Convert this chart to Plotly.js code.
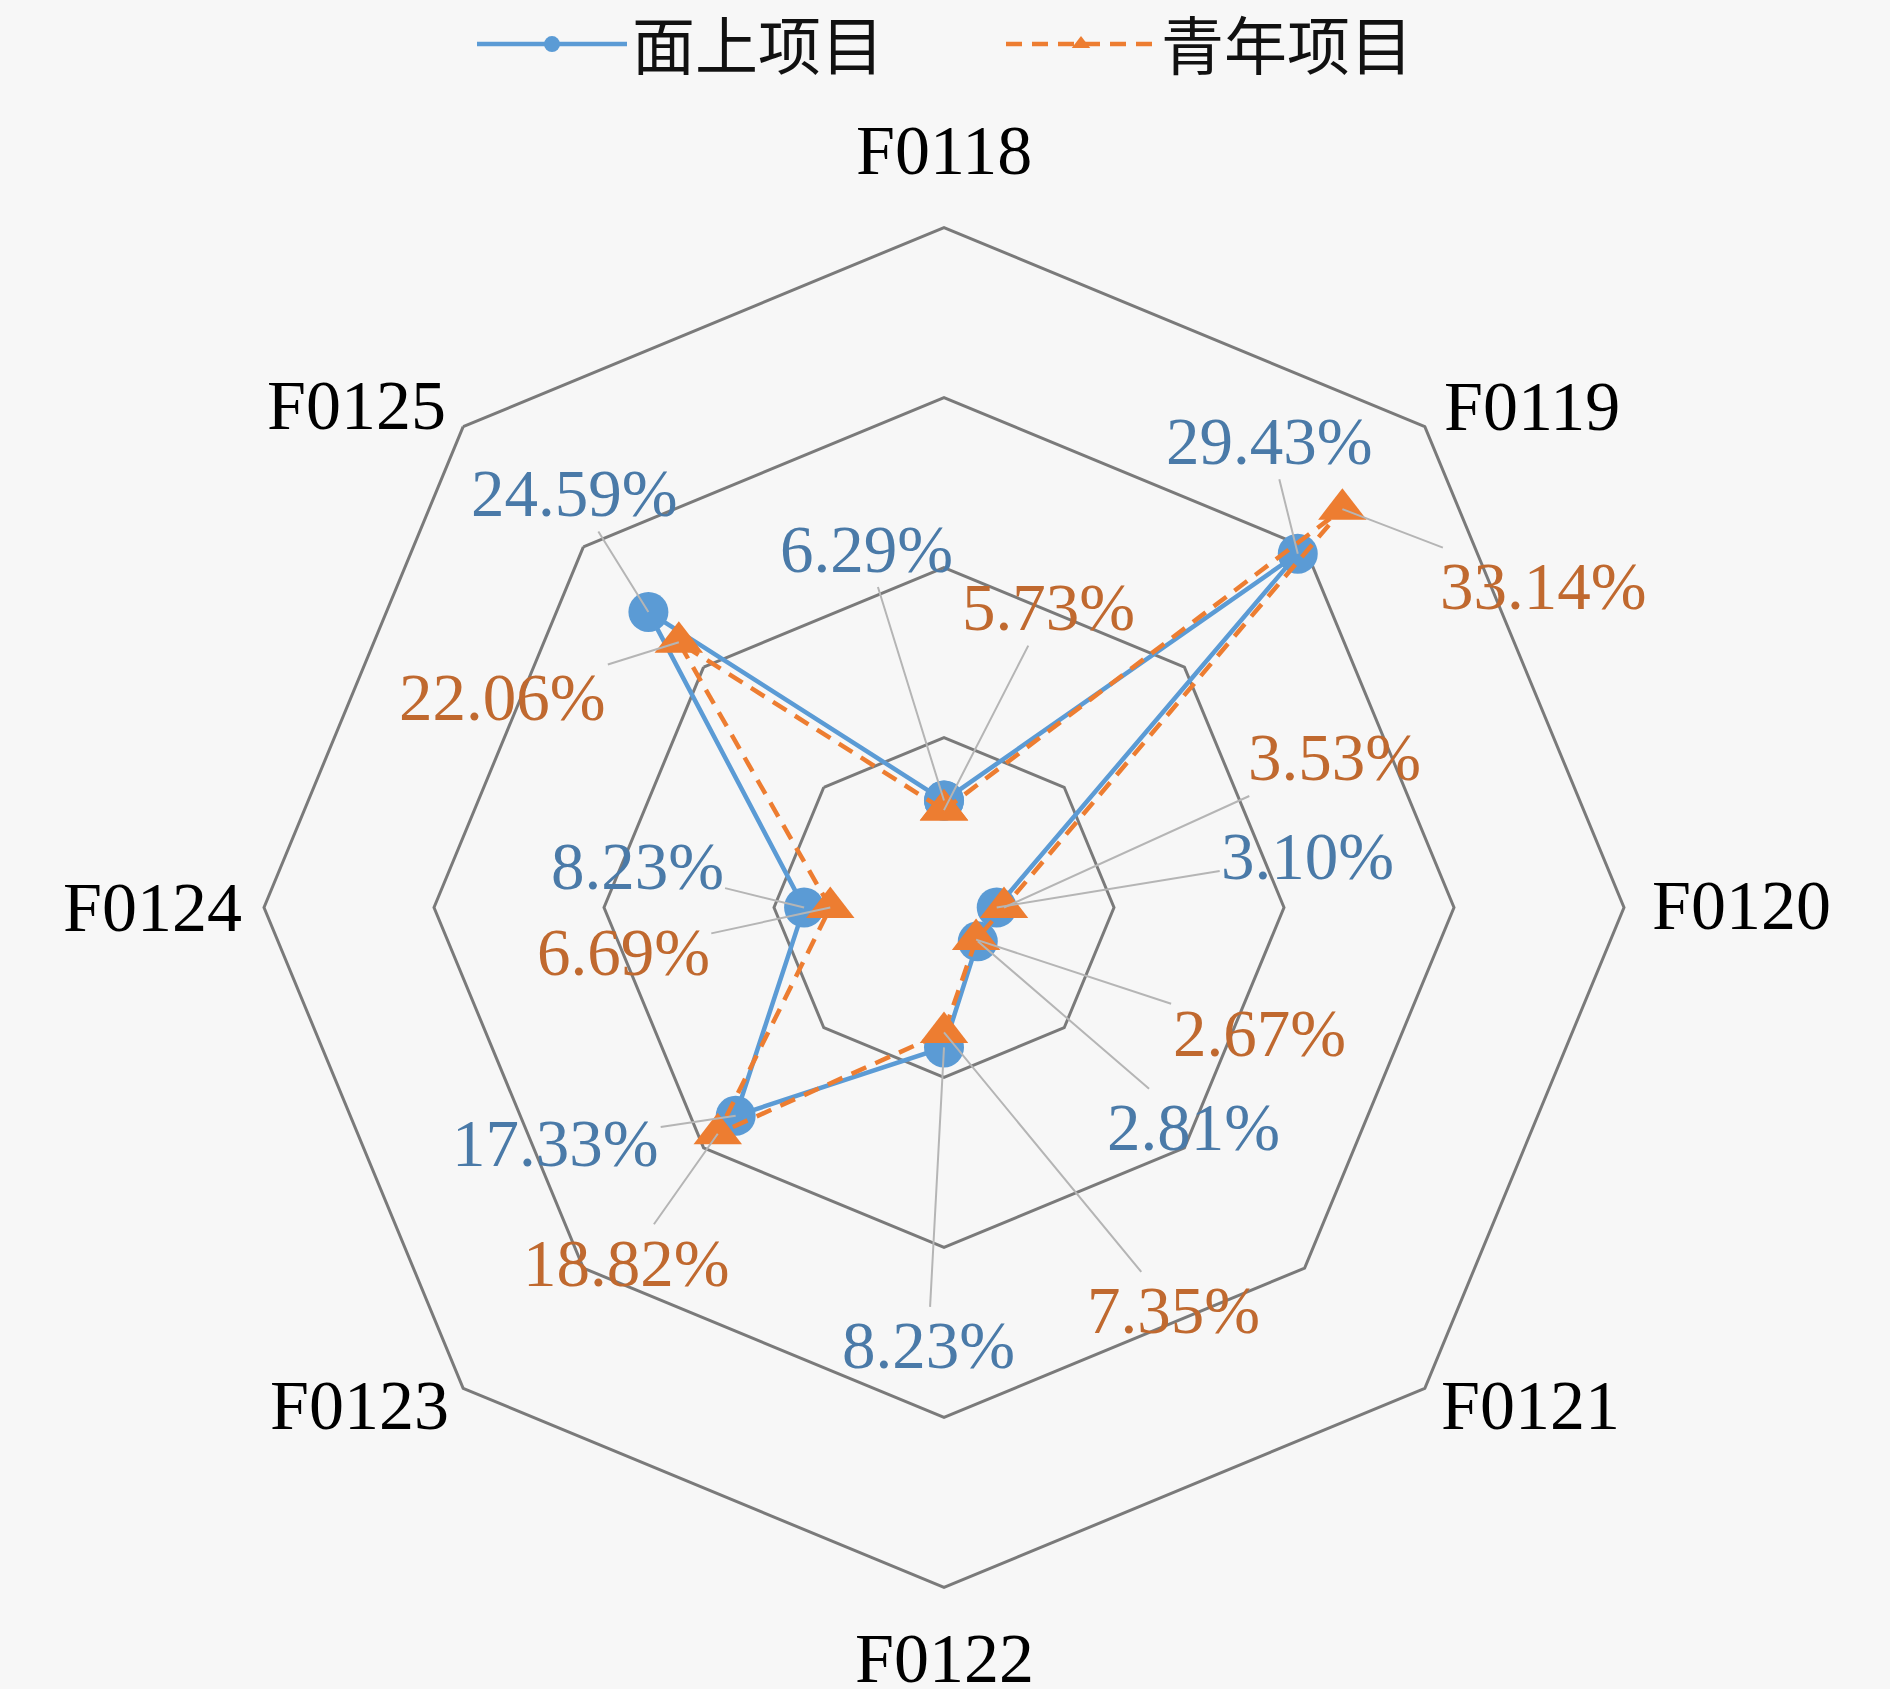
<!DOCTYPE html>
<html>
<head>
<meta charset="utf-8">
<script src="https://cdn.plot.ly/plotly-3.0.1.min.js"></script>
<style>html,body{margin:0;padding:0;background:#f7f7f7;}</style>
</head>
<body>
<div id="chart" style="width:1890px;height:1689px;"></div>
<script>
// ---- data ----
const categories = ['F0118','F0119','F0120','F0121','F0122','F0123','F0124','F0125'];
const seriesNames = ['面上项目','青年项目'];
const mianshangValues = [6.29, 29.43, 3.10, 2.81, 8.23, 17.33, 8.23, 24.59];
const qingnianValues  = [5.73, 33.14, 3.53, 2.67, 7.35, 18.82, 6.69, 22.06];
const radialMax = 40;
const radialStep = 10;

// ---- style / label placement (pixel offsets) ----
const W = 1890, H = 1689;
const blueLine = '#5b9bd5', orangeLine = '#ed7d31';
const blueText = '#4a7aa8', orangeText = '#c0692f';
const blueLabelOffsets = [[-78,-252],[-28,-113],[311,-51],[216,186],[-16,298],[-180,27],[-167,-41],[-74,-119]];
const orangeLabelOffsets = [[104,-203],[201,77],[330,-150],[283,93],[229,278],[-91,129],[-207,45],[-176,55]];
const categoryLabelOffsets = [[0,-77],[107,-20],[117,-2],[106,17],[0,71],[-104,17],[-112,0],[-107,-21]];
const polarDomain = {x:[264/W, 1624/W], y:[101.5/H, 1461.5/H]};

function closeLoop(arr){ return arr.concat([arr[0]]); }

const traces = [
  {
    type:'scatterpolar', name:seriesNames[0],
    r: closeLoop(mianshangValues), theta: closeLoop(categories),
    mode:'lines+markers',
    line:{color:blueLine, width:4.5},
    marker:{symbol:'circle', size:40, color:blueLine},
    hoverinfo:'skip'
  },
  {
    type:'scatterpolar', name:seriesNames[1],
    r: closeLoop(qingnianValues), theta: closeLoop(categories),
    mode:'lines+markers',
    line:{color:orangeLine, width:4.5, dash:'16px,10px'},
    marker:{symbol:'triangle-up', size:42, color:orangeLine},
    hoverinfo:'skip'
  }
];

// polar geometry (from the subplot domain) to anchor labels at data values
const cxPx = (polarDomain.x[0]+polarDomain.x[1])/2*W;
const cyPxBottom = (polarDomain.y[0]+polarDomain.y[1])/2*H;
const Rpx = Math.min((polarDomain.x[1]-polarDomain.x[0])*W, (polarDomain.y[1]-polarDomain.y[0])*H)/2;
function polarToPaper(v, i){
  const th = i*2*Math.PI/categories.length;
  const rr = v/radialMax*Rpx;
  return {x:(cxPx + rr*Math.sin(th))/W, y:(cyPxBottom + rr*Math.cos(th))/H};
}
function labelAnnotations(values, offsets, color){
  return values.map((v,i)=>{
    const p = polarToPaper(v, i);
    return {
      xref:'paper', yref:'paper', x:p.x, y:p.y,
      text: v.toFixed(2)+'%',
      showarrow:true, arrowhead:0, arrowwidth:2, arrowcolor:'#b5b5b5',
      ax:offsets[i][0], ay:offsets[i][1], standoff:0,
      font:{family:'Liberation Serif, serif', size:67, color:color},
      xanchor:'center', yanchor:'middle'
    };
  });
}
const categoryAnnotations = categories.map((c,i)=>{
  const p = polarToPaper(radialMax, i);
  return {
    xref:'paper', yref:'paper', x:p.x, y:p.y, text:c, showarrow:false,
    xshift:categoryLabelOffsets[i][0], yshift:-categoryLabelOffsets[i][1],
    xanchor:'center', yanchor:'middle',
    font:{family:'Liberation Serif, serif', size:70, color:'#000'}
  };
});

const tickVals = [];
for(let t=radialStep; t<=radialMax; t+=radialStep) tickVals.push(t);

const layout = {
  width:W, height:H,
  paper_bgcolor:'#f7f7f7', plot_bgcolor:'#f7f7f7',
  margin:{l:0,r:0,t:0,b:0,autoexpand:false},
  showlegend:true,
  legend:{
    orientation:'h', x:472/W, xanchor:'left', y:1.002, yanchor:'top',
    font:{family:'Noto Sans CJK SC, sans-serif', size:63, color:'#111'},
    bgcolor:'rgba(0,0,0,0)', itemwidth:150, entrywidth:364, itemsizing:'trace'
  },
  polar:{
    domain:polarDomain,
    bgcolor:'#f7f7f7',
    gridshape:'linear',
    radialaxis:{
      range:[0,radialMax], tickvals:tickVals, showticklabels:false,
      ticks:'', showline:false, gridcolor:'#7a7a7a', gridwidth:3
    },
    angularaxis:{
      direction:'clockwise', rotation:90,
      showgrid:false, showline:true, linecolor:'#7a7a7a', linewidth:3,
      ticks:'', showticklabels:false
    }
  },
  annotations: categoryAnnotations
    .concat(labelAnnotations(mianshangValues, blueLabelOffsets, blueText))
    .concat(labelAnnotations(qingnianValues, orangeLabelOffsets, orangeText))
};

Plotly.newPlot('chart', traces, layout, {displayModeBar:false, staticPlot:true});
</script>
</body>
</html>
